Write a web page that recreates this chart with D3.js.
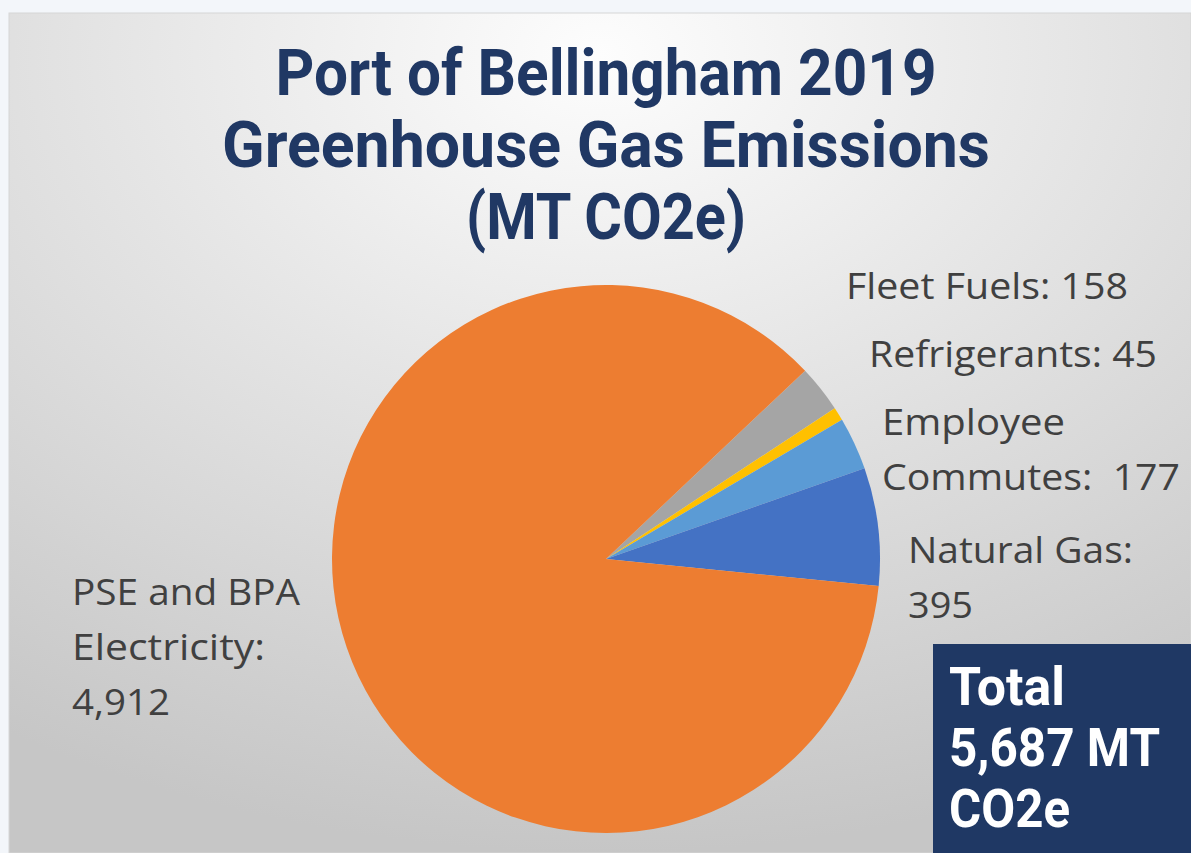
<!DOCTYPE html>
<html>
<head>
  <meta charset="utf-8">
  <script src="https://d3js.org/d3.v7.min.js"></script>
  <style>
    body { margin: 0; background-color: #f3f6fa; }
    svg { display: block; }
  </style>
</head>
<body>
<script>
var width = 1191;
var height = 853;

// data (MT CO2e)
const categories = ["Fleet Fuels", "Refrigerants", "Employee Commutes", "Natural Gas", "PSE and BPA Electricity"];
const values = [158, 45, 177, 395, 4912];
const colors = ["#a5a5a5", "#ffc000", "#5b9bd5", "#4472c4", "#ed7d31"];
const labelLines = [
  ["Fleet Fuels: 158"],
  ["Refrigerants: 45"],
  ["Employee", "Commutes:  177"],
  ["Natural Gas:", "395"],
  ["PSE and BPA", "Electricity:", "4,912"]
];
const titleLines = ["Port of Bellingham 2019", "Greenhouse Gas Emissions", "(MT CO2e)"];
const totalLines = ["Total", "5,687 MT", "CO2e"];

// label placement (left x, first baseline, line gap)
const labelPos = [
  { x: 846, y: 299, gap: 55, w: [282] },
  { x: 869, y: 367, gap: 55, w: [288] },
  { x: 882, y: 435, gap: 55, w: [183, 298] },
  { x: 908, y: 563, gap: 55, w: [225, 65] },
  { x: 72, y: 605, gap: 55, w: [228, 193, 98] }
];

var svg = d3.select("body").append("svg")
    .attr("width", width)
    .attr("height", height);

var defs = svg.append("defs");
var grad = defs.append("radialGradient")
    .attr("id", "bg")
    .attr("cx", "50%").attr("cy", "5%")
    .attr("r", "95%");
grad.append("stop").attr("offset", "0%").attr("stop-color", "#fdfdfd");
grad.append("stop").attr("offset", "45%").attr("stop-color", "#e4e4e4");
grad.append("stop").attr("offset", "100%").attr("stop-color", "#c6c6c6");

svg.append("rect")
    .attr("x", 9).attr("y", 13)
    .attr("width", width - 9).attr("height", height - 13)
    .attr("fill", "url(#bg)")
    .attr("stroke", "#d6d6d6")
    .attr("stroke-width", 1);

// title
svg.append("g").selectAll("text")
    .data(titleLines)
    .enter()
    .append("text")
    .attr("x", 606)
    .attr("y", (d, i) => 95 + i * 72)
    .attr("text-anchor", "middle")
    .attr("textLength", (d, i) => [661, 768, 280][i])
    .attr("lengthAdjust", "spacingAndGlyphs")
    .style("font-family", "Roboto, 'DejaVu Sans', sans-serif")
    .style("font-weight", "bold")
    .style("font-size", "64px")
    .style("fill", "#203864")
    .text(d => d);

// pie
var cx = 606, cy = 559, radius = 274;
var startDeg = 46.6;

var pie = d3.pie()
    .sort(null)
    .value(d => d)
    .startAngle(startDeg * Math.PI / 180)
    .endAngle((startDeg + 360) * Math.PI / 180);

var arc = d3.arc().innerRadius(0).outerRadius(radius);

var color = d3.scaleOrdinal().domain(categories).range(colors);

var group = svg.append("g")
    .attr("transform", `translate(${cx}, ${cy})`);

group.selectAll("path")
    .data(pie(values))
    .enter()
    .append("path")
    .attr("d", arc)
    .attr("fill", (d, i) => color(categories[i]));

// data labels
labelLines.forEach(function(lines, i) {
  var p = labelPos[i];
  svg.append("g").selectAll("text")
      .data(lines)
      .enter()
      .append("text")
      .attr("x", p.x)
      .attr("y", (d, j) => p.y + j * p.gap)
      .attr("textLength", (d, j) => p.w[j])
      .attr("lengthAdjust", "spacingAndGlyphs")
      .style("font-family", "'Open Sans', Lato, sans-serif")
      .style("font-size", "36px")
      .style("fill", "#404040")
      .style("white-space", "pre")
      .text(d => d);
});

// total box
svg.append("rect")
    .attr("x", 933).attr("y", 644)
    .attr("width", width - 933).attr("height", height - 644)
    .attr("fill", "#1f3864");

svg.append("g").selectAll("text")
    .data(totalLines)
    .enter()
    .append("text")
    .attr("x", 949)
    .attr("y", (d, i) => 705 + i * 61)
    .attr("textLength", (d, i) => [116, 211, 121][i])
    .attr("lengthAdjust", "spacingAndGlyphs")
    .style("font-family", "Roboto, 'DejaVu Sans', sans-serif")
    .style("font-weight", "bold")
    .style("font-size", "53px")
    .style("fill", "#ffffff")
    .text(d => d);
</script>
</body>
</html>
